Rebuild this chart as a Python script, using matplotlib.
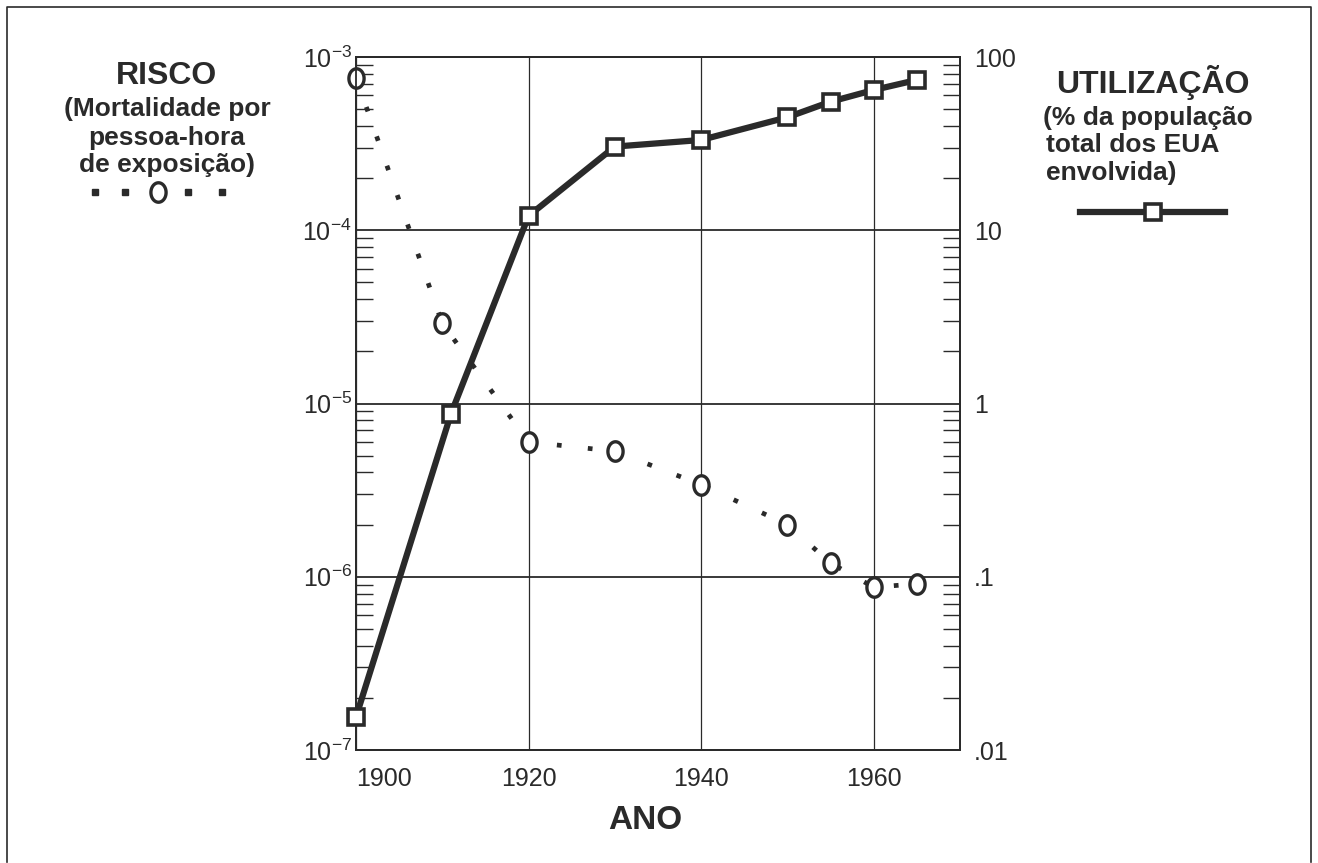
import matplotlib
matplotlib.use("Agg")
import matplotlib.pyplot as plt
import numpy as np
from matplotlib.lines import Line2D
from matplotlib.path import Path
from matplotlib.ticker import NullFormatter, LogLocator

plt.rcParams['font.family'] = ['Liberation Sans', 'DejaVu Sans']
plt.rcParams['mathtext.fontset'] = 'custom'
plt.rcParams['mathtext.rm'] = 'Liberation Sans'
plt.rcParams['mathtext.it'] = 'Liberation Sans:italic'
plt.rcParams['mathtext.bf'] = 'Liberation Sans:bold'
plt.rcParams['lines.scale_dashes'] = False

# ---------------- data ----------------
risk_years = [1900, 1910, 1920, 1930, 1940, 1950, 1955, 1960, 1965]
risk_values = [7.6e-4, 2.9e-5, 6.0e-6, 5.3e-6, 3.4e-6, 2.0e-6, 1.2e-6, 8.7e-7, 9.1e-7]

use_years = [1900, 1911, 1920, 1930, 1940, 1950, 1955, 1960, 1965]
use_values = [0.0155, 0.87, 12.1, 30.4, 33.2, 44.9, 55.2, 64.5, 73.7]

x_ticks = [1900, 1920, 1940, 1960]
x_tick_labels = ['1900', '1920', '1940', '1960']
left_ticks = [1e-7, 1e-6, 1e-5, 1e-4, 1e-3]
left_tick_labels = [r'$10^{-7}$', r'$10^{-6}$', r'$10^{-5}$', r'$10^{-4}$', r'$10^{-3}$']
right_ticks = [0.01, 0.1, 1, 10, 100]
right_tick_labels = ['.01', '.1', '1', '10', '100']

W, H = 1318, 863
INK = '#2a2a2a'

def fx(px):
    return px / W

def fy(py):
    return 1 - py / H

# ellipse marker (slightly taller than wide)
t = np.linspace(0, 2 * np.pi, 60)
ell = Path(np.column_stack([0.78 * np.cos(t), np.sin(t)]), closed=True)

fig = plt.figure(figsize=(W / 100, H / 100), dpi=100)
fig.patch.set_facecolor('white')

ax = fig.add_axes([fx(356), fy(750), (960 - 356) / W, (750 - 57) / H])
ax.set_yscale('log')
ax.set_xlim(1900, 1970)
ax.set_ylim(1e-7, 1e-3)

ax2 = ax.twinx()
ax2.set_yscale('log')
ax2.set_ylim(0.01, 100)

# grid / ticks
ax.set_xticks(x_ticks)
ax.set_xticklabels(x_tick_labels, fontsize=18, color=INK)
ax.get_xticklabels()[0].set_horizontalalignment('left')
ax.set_yticks(left_ticks)
ax.set_yticklabels(left_tick_labels, fontsize=18, color=INK)
ax.yaxis.set_minor_locator(LogLocator(base=10, subs=np.arange(2, 10), numticks=20))
ax.yaxis.set_minor_formatter(NullFormatter())
ax.grid(True, axis='y', which='major', color=INK, lw=1.3)
ax.grid(True, axis='x', which='major', color=INK, lw=0.9)
ax.tick_params(axis='x', length=0, pad=12)
ax.tick_params(axis='y', which='major', length=0, pad=3)
ax.tick_params(axis='y', which='minor', direction='in', length=12, width=1.0, color=INK)

ax2.set_yticks(right_ticks)
ax2.set_yticklabels(right_tick_labels, fontsize=18, color=INK)
ax2.yaxis.set_minor_locator(LogLocator(base=10, subs=np.arange(2, 10), numticks=20))
ax2.yaxis.set_minor_formatter(NullFormatter())
ax2.tick_params(axis='y', which='major', length=0, pad=10)
ax2.tick_params(axis='y', which='minor', direction='in', length=12, width=1.0, color=INK)

for a in (ax, ax2):
    for s in a.spines.values():
        s.set_linewidth(1.3)
        s.set_color(INK)

# risk series: dotted line + open circles
rl, = ax.plot(risk_years, risk_values, color=INK, lw=3.4, solid_capstyle='butt',
              dash_capstyle='butt', clip_on=False, zorder=3)
rl.set_dashes((3.4, 19.0))
ax.plot(risk_years, risk_values, ls='none', marker=ell, ms=14, mfc='white',
        mec=INK, mew=2.4, clip_on=False, zorder=4)

# utilisation series
ax2.plot(use_years, use_values, color=INK, lw=4.5, marker='s', ms=12,
         mfc='white', mec=INK, mew=2.6, clip_on=False, zorder=5)

# ---------------- annotations ----------------
fig.text(fx(167), fy(76), 'RISCO', ha='center', va='center', fontsize=23,
         fontweight='bold', color=INK)
for txt, yy in [('(Mortalidade por', 109), ('pessoa-hora', 138), ('de exposição)', 165)]:
    fig.text(fx(167), fy(yy), txt, ha='center', va='center', fontsize=19,
             fontweight='bold', color=INK)
fig.add_artist(Line2D([fx(95), fx(125), fx(188), fx(222)], [fy(192)] * 4,
                      transform=fig.transFigure, ls='none', marker='s', ms=4,
                      color=INK))
fig.add_artist(Line2D([fx(158)], [fy(192)], transform=fig.transFigure, ls='none',
                      marker=ell, ms=14, mfc='white', mec=INK, mew=2.4))

fig.text(fx(1153), fy(83), 'UTILIZAÇÃO', ha='center', va='center', fontsize=23,
         fontweight='bold', color=INK)
for txt, xx, yy in [('(% da população', 1043, 118), ('total dos EUA', 1046, 145),
                    ('envolvida)', 1046, 173)]:
    fig.text(fx(xx), fy(yy), txt, ha='left', va='center', fontsize=19,
             fontweight='bold', color=INK)
fig.add_artist(Line2D([fx(1080), fx(1225)], [fy(212)] * 2, transform=fig.transFigure,
                      color=INK, lw=4.5))
fig.add_artist(Line2D([fx(1153)], [fy(212)], transform=fig.transFigure, ls='none',
                      marker='s', ms=12, mfc='white', mec=INK, mew=2.6))

fig.text(fx(645), fy(820), 'ANO', ha='center', va='center', fontsize=24,
         fontweight='bold', color=INK)

# page frame
fig.add_artist(Line2D([fx(7), fx(7), fx(1311), fx(1311)], [fy(862), fy(7), fy(7), fy(862)],
                      transform=fig.transFigure, color=INK, lw=1.2))

fig.savefig('out.png', dpi=100, facecolor='white')
